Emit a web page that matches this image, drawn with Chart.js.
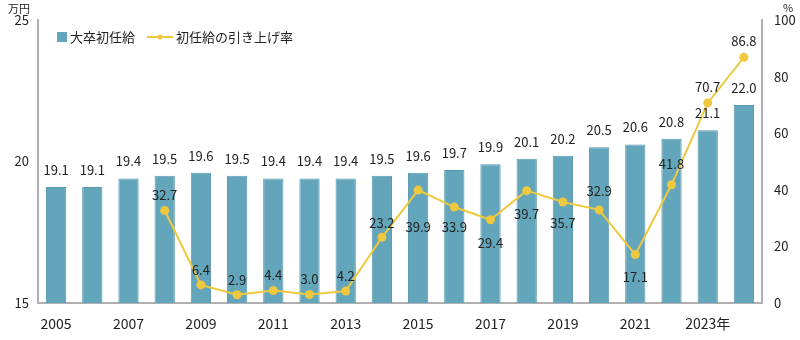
<!DOCTYPE html>
<html>
<head>
<meta charset="utf-8">
<script src="https://cdn.jsdelivr.net/npm/chart.js@4.4.0/dist/chart.umd.min.js"></script>
<style>
  html, body { margin: 0; padding: 0; background: #fff; }
  #wrap { width: 800px; height: 340px; }
</style>
</head>
<body>
<div id="wrap"><canvas id="salaryChart"></canvas></div>
<script>
// data
var years = ['2005','2006','2007','2008','2009','2010','2011','2012','2013','2014',
             '2015','2016','2017','2018','2019','2020','2021','2022','2023','2024'];
var startingSalary = [19.1, 19.1, 19.4, 19.5, 19.6, 19.5, 19.4, 19.4, 19.4, 19.5,
                      19.6, 19.7, 19.9, 20.1, 20.2, 20.5, 20.6, 20.8, 21.1, 22.0];
var raiseRate = [null, null, null, 32.7, 6.4, 2.9, 4.4, 3.0, 4.2, 23.2,
                 39.9, 33.9, 29.4, 39.7, 35.7, 32.9, 17.1, 41.8, 70.7, 86.8];
var leftTicks = [15, 20, 25];
var rightTicks = [0, 20, 40, 60, 80, 100];

// label placement for the rate line (pixels, + = above, - = below)
var rateLabelOffset = [0, 0, 0, 15, 15, 15, 15, 15, 15, 14,
                       -37, -20, -23, -23, -21, 19, -22, 21, 16, 16];

var BAR_COLOR = '#63a6bc';
var LINE_COLOR = '#eec93f';
var TEXT_COLOR = '#222';
var AXIS_COLOR = '#b0b0b0';
var FONT = "'Noto Sans CJK JP', 'Noto Sans', sans-serif";

var labelPlugin = {
    id: 'valueLabels',
    afterDatasetsDraw: function(chart) {
        var ctx = chart.ctx;
        ctx.save();
        ctx.font = '13px ' + FONT;
        ctx.fillStyle = TEXT_COLOR;
        ctx.textAlign = 'center';
        ctx.textBaseline = 'middle';

        var barMeta = chart.getDatasetMeta(0);
        barMeta.data.forEach(function(el, i) {
            ctx.fillText(startingSalary[i].toFixed(1), el.x, el.y - 17);
        });

        var lineMeta = chart.getDatasetMeta(1);
        lineMeta.data.forEach(function(el, i) {
            if (raiseRate[i] === null) return;
            ctx.fillText(raiseRate[i].toFixed(1), el.x, el.y - rateLabelOffset[i]);
        });
        ctx.restore();
    }
};

var legendPlugin = {
    id: 'customLegend',
    afterDraw: function(chart) {
        var ctx = chart.ctx;
        ctx.save();
        // bar swatch
        ctx.fillStyle = BAR_COLOR;
        ctx.fillRect(57, 32, 10, 10);
        ctx.font = '13px ' + FONT;
        ctx.fillStyle = TEXT_COLOR;
        ctx.textBaseline = 'middle';
        ctx.textAlign = 'left';
        ctx.fillText('大卒初任給', 70, 37);
        // line swatch
        ctx.strokeStyle = LINE_COLOR;
        ctx.lineWidth = 2;
        ctx.beginPath();
        ctx.moveTo(147, 37);
        ctx.lineTo(173, 37);
        ctx.stroke();
        ctx.fillStyle = LINE_COLOR;
        ctx.beginPath();
        ctx.arc(160, 37, 2.5, 0, Math.PI * 2);
        ctx.fill();
        ctx.fillStyle = TEXT_COLOR;
        ctx.fillText('初任給の引き上げ率', 176, 37);

        // unit labels
        ctx.font = '11px ' + FONT;
        ctx.textAlign = 'center';
        ctx.fillText('万円', 19, 9);
        ctx.fillText('%', 788, 8);
        ctx.restore();
    }
};

var ctx = document.getElementById('salaryChart');
var chart = new Chart(ctx, {
    type: 'bar',
    data: {
        labels: years,
        datasets: [
            {
                type: 'bar',
                label: '大卒初任給',
                data: startingSalary,
                backgroundColor: BAR_COLOR,
                borderColor: '#5899af',
                borderWidth: 1,
                barPercentage: 0.56,
                categoryPercentage: 1.0,
                yAxisID: 'y',
                order: 2
            },
            {
                type: 'line',
                label: '初任給の引き上げ率',
                data: raiseRate,
                borderColor: LINE_COLOR,
                backgroundColor: LINE_COLOR,
                borderWidth: 2,
                pointRadius: 4.5,
                pointBackgroundColor: LINE_COLOR,
                pointBorderWidth: 0,
                tension: 0,
                spanGaps: false,
                yAxisID: 'y2',
                order: 1
            }
        ]
    },
    options: {
        responsive: true,
        maintainAspectRatio: false,
        animation: false,
        layout: { padding: { top: 20, left: 0, right: 0, bottom: 0 } },
        plugins: {
            legend: { display: false },
            tooltip: { enabled: false }
        },
        scales: {
            x: {
                grid: { display: false, drawTicks: false },
                border: { display: true, color: AXIS_COLOR, width: 2 },
                ticks: {
                    autoSkip: false,
                    maxRotation: 0,
                    padding: 12,
                    color: TEXT_COLOR,
                    font: { family: FONT, size: 14 },
                    callback: function(value, index) {
                        if (index % 2 !== 0) return '';
                        var y = years[index];
                        return y === '2023' ? y + '年' : y;
                    }
                },
                afterFit: function(scale) { scale.height = 37; }
            },
            y: {
                position: 'left',
                min: 15,
                max: 25,
                afterBuildTicks: function(scale) {
                    scale.ticks = leftTicks.map(function(v) { return { value: v }; });
                },
                grid: { display: false, drawTicks: false },
                border: { display: true, color: AXIS_COLOR, width: 2 },
                ticks: {
                    padding: 9,
                    color: TEXT_COLOR,
                    font: { family: FONT, size: 13 }
                },
                afterFit: function(scale) { scale.width = 38; }
            },
            y2: {
                position: 'right',
                min: 0,
                max: 100,
                afterBuildTicks: function(scale) {
                    scale.ticks = rightTicks.map(function(v) { return { value: v }; });
                },
                grid: { display: false, drawTicks: false },
                border: { display: true, color: AXIS_COLOR, width: 2 },
                ticks: {
                    padding: 12,
                    color: TEXT_COLOR,
                    font: { family: FONT, size: 13 }
                },
                afterFit: function(scale) { scale.width = 38; }
            }
        }
    },
    plugins: [labelPlugin, legendPlugin]
});
</script>
</body>
</html>
